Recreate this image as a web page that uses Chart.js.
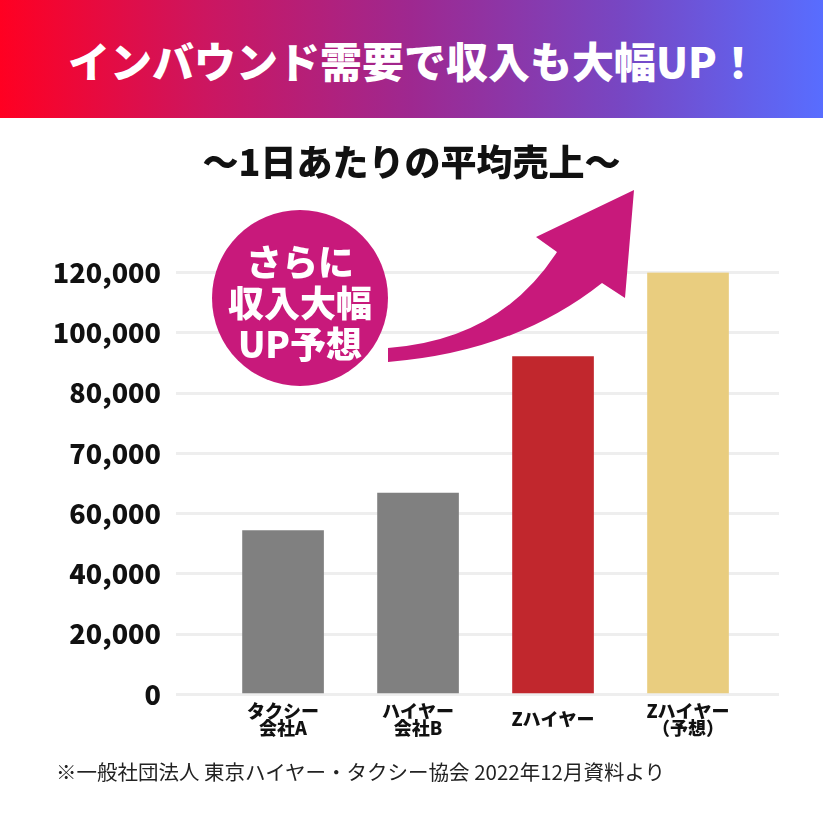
<!DOCTYPE html>
<html lang="ja">
<head>
<meta charset="utf-8">
<title>インバウンド需要で収入も大幅UP！</title>
<script src="https://cdn.jsdelivr.net/npm/chart.js@4.4.1/dist/chart.umd.min.js"></script>
<style>
    body { margin: 0; width: 823px; height: 839px; background: #fff; position: relative; overflow: hidden;
           font-family: "Noto Sans CJK JP", "Noto Sans", sans-serif; }
    #header { position: absolute; left: 0; top: 0; width: 823px; height: 118px;
              background: linear-gradient(90deg, #ff0022 0%, #cc1660 25%, #9e2890 50%, #7846c2 75%, #586dff 100%);
              color: #fff; font-size: 42px; font-weight: 900; display: flex; align-items: center; justify-content: center; padding-left: 4px; box-sizing: border-box; }
    #subtitle { position: absolute; left: 0; top: 138px; width: 823px; text-align: center;
                font-size: 36px; font-weight: 900; color: #111; line-height: 44px; }
    #chart { position: absolute; left: 0; top: 0; }
    #arrow { position: absolute; left: 0; top: 0; }
    #badge { position: absolute; left: 212px; top: 210px; width: 176px; height: 176px; border-radius: 50%;
             background: #c8197b; color: #fff; font-size: 36px; font-weight: 900; line-height: 41px;
             display: flex; flex-direction: column; align-items: center; justify-content: center; padding-top: 6px; box-sizing: border-box; }
    #note { position: absolute; left: 56px; top: 758px; font-size: 20.5px; color: #222; line-height: 26px; }
</style>
</head>
<body>
<canvas id="chart" width="823" height="839"></canvas>
<div id="header">インバウンド需要で収入も大幅UP！</div>
<div id="subtitle">〜1日あたりの平均売上〜</div>
<svg id="arrow" width="823" height="839">
    <path d="M 388 348 Q 500 340 557 252 L 536 237 L 634 190 L 625 298 L 602 283 Q 515 352 388 362 Z" fill="#c8197b"/>
</svg>
<div id="badge"><span>さらに</span><span>収入大幅</span><span>UP予想</span></div>
<div id="note">※一般社団法人 東京ハイヤー・タクシー協会 2022年12月資料より</div>
<script>
// categories (x axis)
const companies = [["タクシー", "会社A"], ["ハイヤー", "会社B"], "Zハイヤー", ["Zハイヤー", "（予想）"]];
// average sales per day (yen)
const salesValues = [54300, 63400, 92100, 120000];
const barColors = ["#808080", "#808080", "#c1272d", "#e9cd7f"];
// y axis ticks: evenly spaced on the picture although the values are not
const yTickValues = [0, 20000, 40000, 60000, 70000, 80000, 100000, 120000];
const yTickLabels = ["0", "20,000", "40,000", "60,000", "70,000", "80,000", "100,000", "120,000"];

// yen -> position on the evenly spaced tick axis
function toAxis(v) {
    for (let i = 0; i < yTickValues.length - 1; i++) {
        let a = yTickValues[i], b = yTickValues[i + 1];
        if (v <= b) return i + (v - a) / (b - a);
    }
    return yTickValues.length - 1;
}

const font = "'Noto Sans CJK JP', 'Noto Sans', sans-serif";

new Chart(document.getElementById("chart"), {
    type: 'bar',
    data: {
        datasets: [{
            data: salesValues.map((v, i) => ({x: i + 1, y: toAxis(v)})),
            backgroundColor: barColors,
            borderWidth: 0,
            barThickness: 81
        }]
    },
    options: {
        responsive: false,
        animation: false,
        layout: {
            padding: {top: 272.5, left: 20, right: 44, bottom: 84.7}
        },
        plugins: {
            legend: {display: false},
            tooltip: {enabled: false},
            title: {display: false}
        },
        scales: {
            x: {
                type: 'linear',
                min: 0.207,
                max: 4.674,
                offset: false,
                grid: {display: false},
                border: {display: false},
                afterFit: s => { s.height = 60; },
                ticks: {
                    stepSize: 1,
                    includeBounds: false,
                    autoSkip: false,
                    maxRotation: 0,
                    minRotation: 0,
                    crossAlign: 'center',
                    padding: 9,
                    color: '#111',
                    font: {family: font, size: 18, weight: 900, lineHeight: 0.92},
                    callback: v => companies[v - 1] || ''
                }
            },
            y: {
                min: 0,
                max: yTickLabels.length - 1,
                grid: {color: '#eeeeee', lineWidth: 3, drawTicks: false},
                border: {display: false},
                afterFit: s => { s.width = 156; },
                ticks: {
                    stepSize: 1,
                    padding: 15,
                    color: '#111',
                    font: {family: font, size: 27, weight: 900},
                    callback: v => yTickLabels[v]
                }
            }
        }
    }
});
</script>
</body>
</html>
